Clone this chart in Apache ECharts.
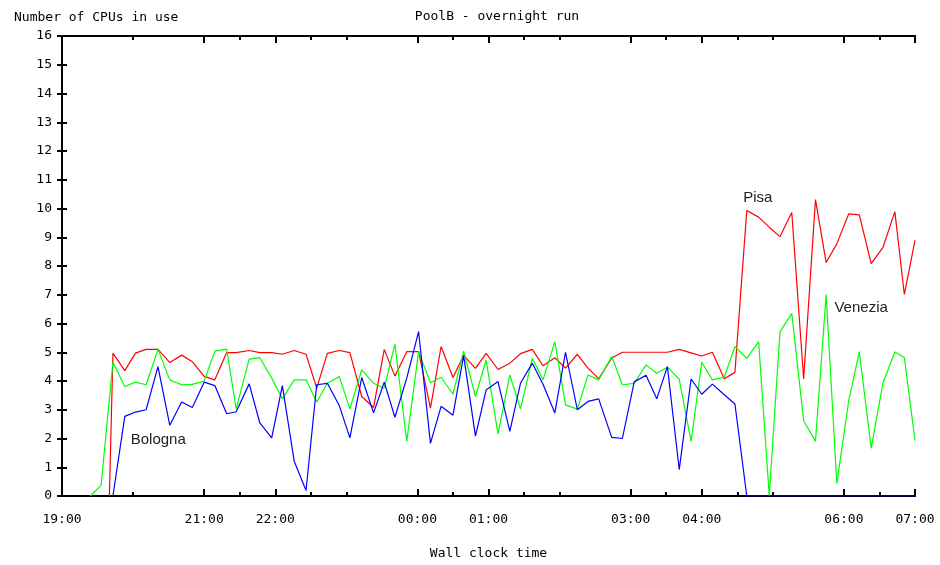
<!DOCTYPE html>
<html>
<head>
<meta charset="utf-8">
<script src="https://cdn.jsdelivr.net/npm/echarts@6/dist/echarts.min.js"></script>
<style>
html,body{margin:0;padding:0;background:#fff;}
#chart{width:940px;height:565px;}
</style>
</head>
<body>
<div id="chart"></div>
<script>
// minutes after 19:00
const times = [24,33,40,43,53,62,71,81,91,101,110,120,129,139,147,158,167,177,186,196,206,215,224,234,243,253,263,272,281,291,301,311,320,330,339,349,358,368,378,387,397,406,416,425,435,444,453,464,473,483,493,502,511,521,531,540,549,559,568,578,588,597,606,616,626,636,645,654,664,673,683,693,703,711,720];

const pisa = [null,null,0,4.97,
  4.36,4.97,5.1,5.1,4.64,
  4.9,4.67,4.16,4.04,4.99,
  4.99,5.06,4.99,4.99,4.93,
  5.06,4.93,3.75,4.96,5.06,
  4.99,3.46,3.08,5.1,4.17,
  5.02,5.02,3.06,5.2,4.12,
  4.89,4.44,4.96,4.4,4.62,
  4.95,5.1,4.53,4.81,4.45,
  4.93,4.45,4.08,4.8,5.0,
  5.0,5.0,5.0,5.0,5.1,
  4.98,4.87,5.0,4.08,4.3,
  9.93,9.7,9.35,9.02,9.86,
  4.07,10.31,8.12,8.77,9.81,
  9.78,8.08,8.65,9.89,7.01,
  8.89];

const venezia = [0,0.38,null,4.65,
  3.81,3.96,3.87,5.1,4.04,
  3.87,3.88,4.0,5.04,5.11,
  3.03,4.76,4.81,4.1,3.38,
  4.04,4.04,3.27,3.92,4.16,
  3.03,4.39,3.92,3.75,5.28,
  1.9,5.02,3.94,4.13,3.54,
  5.04,3.46,4.73,2.16,4.21,
  3.03,4.79,4.04,5.37,3.17,
  3.02,4.21,4.04,4.85,3.87,
  3.92,4.56,4.27,4.48,4.06,
  1.9,4.65,4.04,4.13,5.19,
  4.79,5.37,0,5.71,6.35,
  2.62,1.9,7.01,0.43,3.3,
  5.02,1.66,3.94,5.01,4.82,
  1.93];

const bologna = [null,null,null,0,
  2.77,2.92,3.0,4.5,2.46,
  3.27,3.08,3.96,3.84,2.86,
  2.93,3.9,2.54,2.02,3.84,
  1.21,0.19,3.87,3.92,3.15,
  2.02,4.12,2.89,3.96,2.74,
  4.1,5.72,1.83,3.12,2.81,
  4.88,2.08,3.69,3.98,2.25,
  3.92,4.62,3.89,2.89,5.0,
  3.0,3.29,3.38,2.04,2.0,
  3.97,4.2,3.38,4.5,0.92,
  4.07,3.54,3.89,3.52,3.2,
  0,0,0,0,0,
  0,0,0,0,0,
  0,0,0,0,0,
  0];

const majorTicks = [0,120,180,300,360,480,540,660,720];
const minorTicks = [60,150,210,240,330,390,420,510,570,600,690];
const seriesNames = ['Pisa','Venezia','Bologna'];
const seriesColors = ['#ff0000','#00ff00','#0000ff'];
// label anchors [minutes, value]
const labelAnchors = [[575,10.38],[652,6.53],[58,1.96]];

const FONT = "'DejaVu Sans Mono', monospace";

function fmtTime(m){
  const h = (19 + Math.floor(m/60)) % 24;
  const mm = m % 60;
  return String(h).padStart(2,'0') + ':' + String(mm).padStart(2,'0');
}
function zip(vals){
  const out=[];
  for(let i=0;i<times.length;i++){ if(vals[i]!==null) out.push([times[i], vals[i]]); }
  return out;
}

const axisLine = {show:true, lineStyle:{color:'#000', width:2}};
function xAx(pos, ticks, len, labels){
  return {
    type:'value', min:0, max:720, interval:60, position:pos,
    axisLine: axisLine,
    axisTick:{show:true, inside:true, length:len, customValues:ticks, lineStyle:{color:'#000', width:2}},
    axisLabel: labels ? {show:true, customValues:majorTicks, formatter:fmtTime, margin:17,
      fontFamily:FONT, fontSize:13, color:'#000'} : {show:false},
    splitLine:{show:false},
    name: labels ? 'Wall clock time' : '',
    nameLocation:'middle', nameGap:51,
    nameTextStyle:{fontFamily:FONT, fontSize:13, color:'#000'}
  };
}
function yAx(pos, labels){
  return {
    type:'value', min:0, max:16, interval:1, position:pos,
    axisLine: axisLine,
    axisTick:{show:true, inside:true, length:5, lineStyle:{color:'#000', width:2}},
    axisLabel: labels ? {show:true, margin:10, fontFamily:FONT, fontSize:13, color:'#000'} : {show:false},
    splitLine:{show:false}
  };
}

const series = [pisa, venezia, bologna].map((vals, i) => ({
  name: seriesNames[i], type:'line', data: zip(vals),
  xAxisIndex:0, yAxisIndex:0,
  showSymbol:false, symbol:'none', animation:false,
  lineStyle:{color:seriesColors[i], width:1.2},
  markPoint:{
    symbol:'circle', symbolSize:0, animation:false,
    label:{show:true, position:'right', distance:0, formatter:'{b}',
      fontFamily:"'Liberation Sans', Arial, sans-serif", fontSize:15, color:'#222'},
    data:[{name:seriesNames[i], coord:labelAnchors[i]}]
  }
}));

const chart = echarts.init(document.getElementById('chart'), null, {renderer:'canvas', width:940, height:565});
chart.setOption({
  animation:false,
  backgroundColor:'#fff',
  grid:{left:62, width:853, top:36, height:463},
  xAxis:[
    xAx('bottom', majorTicks, 7, true),
    xAx('bottom', minorTicks, 4, false),
    xAx('top', majorTicks, 7, false),
    xAx('top', minorTicks, 4, false)
  ],
  yAxis:[yAx('left', true), yAx('right', false)],
  graphic:[
    {type:'text', left:14, top:11, style:{text:'Number of CPUs in use', font:"13px 'DejaVu Sans Mono', monospace", fill:'#000'}},
    {type:'text', x:497, y:17, style:{text:'PoolB - overnight run', font:"13px 'DejaVu Sans Mono', monospace", fill:'#000', align:'center', verticalAlign:'middle'}}
  ],
  series: series
});
</script>
</body>
</html>
